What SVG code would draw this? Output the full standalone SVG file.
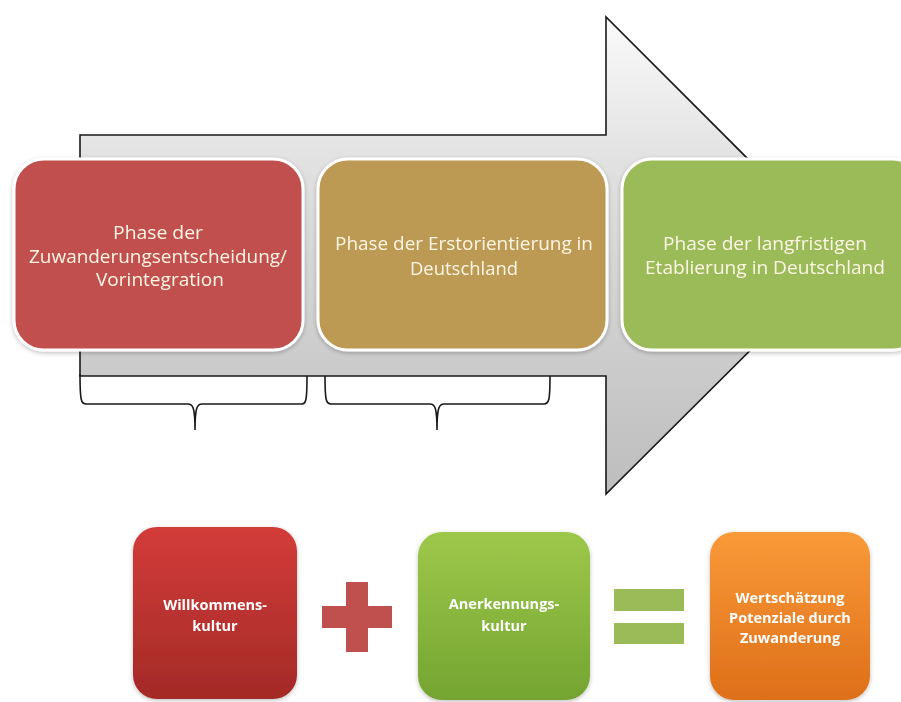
<svg xmlns="http://www.w3.org/2000/svg" width="901" height="702" viewBox="0 0 901 702">
<style>
.phase{font-family:"Open Sans","Liberation Sans",sans-serif;font-size:18.5px;fill:#fdf6e6;text-anchor:middle}
.small{font-family:"Open Sans","Liberation Sans",sans-serif;font-size:14.5px;font-weight:bold;fill:#ffffff;text-anchor:middle}
.pbox{stroke:#ffffff;stroke-width:3}
.brace{fill:none;stroke:#1a1a1a;stroke-width:1.6}
</style>
<defs>
<linearGradient id="arrowGrad" gradientUnits="userSpaceOnUse" x1="0" y1="17" x2="0" y2="494">
<stop offset="0" stop-color="#fafafa"/>
<stop offset="0.3" stop-color="#e2e2e2"/>
<stop offset="1" stop-color="#bdbdbd"/>
</linearGradient>
<linearGradient id="gRed" x1="0" y1="0" x2="0" y2="1"><stop offset="0" stop-color="#d33c39"/><stop offset="1" stop-color="#a32a27"/></linearGradient>
<linearGradient id="gGreen" x1="0" y1="0" x2="0" y2="1"><stop offset="0" stop-color="#9dc84a"/><stop offset="1" stop-color="#74a431"/></linearGradient>
<linearGradient id="gOrange" x1="0" y1="0" x2="0" y2="1"><stop offset="0" stop-color="#f99a38"/><stop offset="1" stop-color="#de6f1a"/></linearGradient>
<filter id="sh" x="-10%" y="-10%" width="120%" height="130%">
<feDropShadow dx="0" dy="1.5" stdDeviation="2" flood-color="#000" flood-opacity="0.25"/>
</filter>
</defs>
<rect width="901" height="702" fill="#ffffff"/>

<g id="arrow">
<path d="M80,135 L606,135 L606,17 L845,256 L606,494 L606,376 L80,376 Z" fill="url(#arrowGrad)" stroke="#1a1a1a" stroke-width="1.6"/>
</g>

<g id="connectors">
<path class="brace" d="M80,374 C80,400 81,404 86,404 L188,404 C193,404 195,408 195,430 C195,408 197,404 202,404 L302,404 C306,404 307,400 307,376"/>
<path class="brace" d="M325,376 C325,400 326,404 331,404 L430,404 C435,404 437,408 437,430 C437,408 439,404 444,404 L544,404 C549,404 550,400 550,376"/>
</g>

<g id="phase1" filter="url(#sh)">
<rect class="pbox" x="14" y="159" width="289" height="191" rx="30" fill="#c0504d"/>
<text class="phase" x="158" y="239" textLength="90" lengthAdjust="spacingAndGlyphs">Phase der</text>
<text class="phase" x="158" y="263" textLength="258" lengthAdjust="spacingAndGlyphs">Zuwanderungsentscheidung/</text>
<text class="phase" x="160" y="286" textLength="128" lengthAdjust="spacingAndGlyphs">Vorintegration</text>
</g>

<g id="phase2" filter="url(#sh)">
<rect class="pbox" x="318" y="159" width="289" height="191" rx="30" fill="#bc9a53"/>
<text class="phase" x="464" y="250" textLength="258" lengthAdjust="spacingAndGlyphs">Phase der Erstorientierung in</text>
<text class="phase" x="464" y="275" textLength="108" lengthAdjust="spacingAndGlyphs">Deutschland</text>
</g>

<g id="phase3" filter="url(#sh)">
<rect class="pbox" x="622" y="159" width="300" height="191" rx="30" fill="#9bbb59"/>
<text class="phase" x="765" y="250" textLength="204" lengthAdjust="spacingAndGlyphs">Phase der langfristigen</text>
<text class="phase" x="765" y="274" textLength="240" lengthAdjust="spacingAndGlyphs">Etablierung in Deutschland</text>
</g>

<g id="willkommen" filter="url(#sh)">
<rect x="133" y="527" width="164" height="172" rx="24" fill="url(#gRed)"/>
<text class="small" x="215" y="610">Willkommens-</text>
<text class="small" x="215" y="631">kultur</text>
</g>

<g id="plus">
<rect x="346" y="582" width="22" height="70" fill="#c0504d"/>
<rect x="322" y="606" width="70" height="22" fill="#c0504d"/>
</g>

<g id="anerkennung" filter="url(#sh)">
<rect x="418" y="532" width="172" height="168" rx="24" fill="url(#gGreen)"/>
<text class="small" x="504" y="609">Anerkennungs-</text>
<text class="small" x="504" y="631">kultur</text>
</g>

<g id="equals">
<rect x="614" y="589" width="70" height="22" fill="#9bbb59"/>
<rect x="614" y="623" width="70" height="21" fill="#9bbb59"/>
</g>

<g id="wertschaetzung" filter="url(#sh)">
<rect x="710" y="532" width="160" height="168" rx="24" fill="url(#gOrange)"/>
<text class="small" x="790" y="603">Wertschätzung</text>
<text class="small" x="790" y="623">Potenziale durch</text>
<text class="small" x="790" y="643">Zuwanderung</text>
</g>
</svg>
